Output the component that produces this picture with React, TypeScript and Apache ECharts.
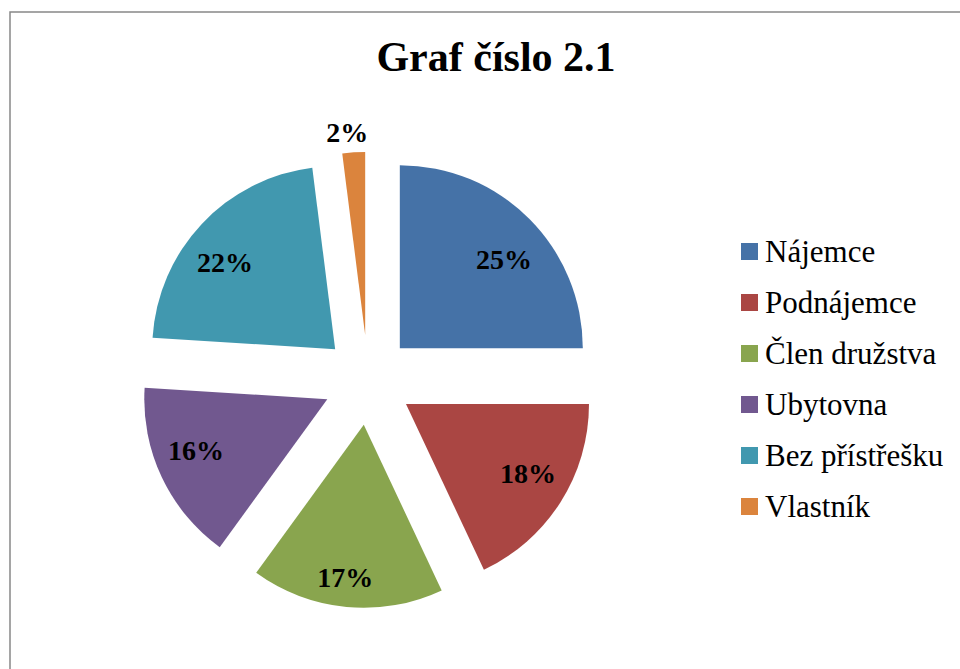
import React, { useEffect, useRef } from "react";
import * as echarts from "echarts";

const categories = ["Nájemce", "Podnájemce", "Člen družstva", "Ubytovna", "Bez přístřešku", "Vlastník"];
const values = [25, 18, 17, 16, 22, 2];
const colors = ["#4572A7", "#AA4643", "#89A54E", "#71588F", "#4198AF", "#DB843D"];
const titleText = "Graf číslo 2.1";

// label placement (style): distance from each exploded slice's apex, and a small x/y nudge
const labelDist = [136, 139, 152, 141, 140, 203];
const labelShift = [
  [6, 10],
  [2, -7],
  [-4, -2],
  [-1, -10],
  [-6, 11],
  [-5, 3],
];

const FONT = "'Liberation Serif', 'Times New Roman', serif";
const CENTER = [368, 380];
const RADIUS = 183;
const OFFSET = 45;

export default function App() {
  const ref = useRef<HTMLDivElement>(null);
  useEffect(() => {
    const chart = echarts.init(ref.current!, undefined, { renderer: "svg" });
    const baseData = categories.map((name, i) => ({
      name,
      value: values[i],
      selected: true,
      itemStyle: { color: colors[i] },
    }));
    const labelSeries = categories.map((_, k) => ({
      type: "pie",
      silent: true,
      legendHoverLink: false,
      center: [CENTER[0] + labelShift[k][0], CENTER[1] + labelShift[k][1]],
      radius: [0, labelDist[k] * 2],
      startAngle: 90,
      clockwise: true,
      selectedMode: "multiple",
      selectedOffset: OFFSET,
      avoidLabelOverlap: false,
      z: 5,
      itemStyle: { color: "rgba(0,0,0,0)", borderWidth: 0 },
      emphasis: { disabled: true },
      labelLine: { show: false },
      data: categories.map((name, i) => ({
        name,
        value: values[i],
        selected: true,
        itemStyle: { color: "rgba(0,0,0,0)", borderWidth: 0 },
        label: {
          show: i === k,
          position: "inside",
          formatter: "{d}%",
          color: "#000",
          fontFamily: FONT,
          fontWeight: "bold",
          fontSize: 28,
        },
        select: {
          itemStyle: { color: "rgba(0,0,0,0)", borderWidth: 0 },
          label: { show: i === k, color: "#000" },
        },
      })),
    }));
    chart.setOption({
      animation: false,
      backgroundColor: "#fff",
      title: {
        text: titleText,
        left: 491,
        textAlign: "center",
        top: 31,
        textStyle: { fontFamily: FONT, fontWeight: "bold", fontSize: 42, color: "#000" },
      },
      legend: {
        orient: "vertical",
        left: 736,
        top: 231,
        icon: "rect",
        itemWidth: 17,
        itemHeight: 17,
        itemGap: 20,
        selectedMode: false,
        data: categories,
        textStyle: { fontFamily: FONT, fontSize: 31, color: "#000", lineHeight: 31, padding: [0, 0, 0, 2] },
      },
      graphic: [
        {
          type: "rect",
          shape: { x: 10, y: 12, width: 1000, height: 700 },
          style: { fill: "none", stroke: "#888", lineWidth: 1.5 },
          silent: true,
        },
      ],
      series: [
        {
          type: "pie",
          center: CENTER,
          radius: [0, RADIUS],
          startAngle: 90,
          clockwise: true,
          selectedMode: "multiple",
          selectedOffset: OFFSET,
          avoidLabelOverlap: false,
          label: { show: false },
          labelLine: { show: false },
          itemStyle: { borderWidth: 0 },
          emphasis: { disabled: true },
          select: { itemStyle: { borderWidth: 0 } },
          data: baseData,
        },
        ...labelSeries,
      ],
    });
    return () => chart.dispose();
  }, []);
  return (
    <div
      ref={ref}
      style={{ position: "fixed", left: 0, top: 0, width: 960, height: 669 }}
    />
  );
}
